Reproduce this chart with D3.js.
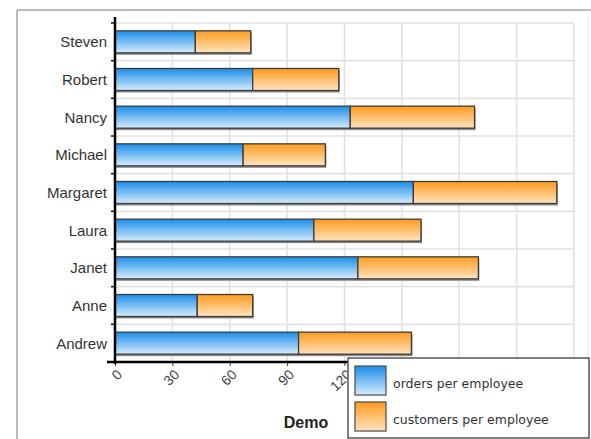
<!DOCTYPE html>
<html>
<head>
<meta charset="utf-8">
<script src="https://cdn.jsdelivr.net/npm/d3@7"></script>
<style>
  html, body { margin: 0; padding: 0; background: #fff; }
  svg { display: block; }
</style>
</head>
<body>
<svg id="chart" width="591" height="439"></svg>
<script>
// Employees shown top to bottom
const categories = ["Steven", "Robert", "Nancy", "Michael", "Margaret", "Laura", "Janet", "Anne", "Andrew"];
// Stacked series values
const ordersPerEmployee    = [42, 72, 123, 67, 156, 104, 127, 43, 96];
const customersPerEmployee = [29, 45, 65, 43, 75, 56, 63, 29, 59];
const seriesNames = ["orders per employee", "customers per employee"];
const xTickValues = [0, 30, 60, 90, 120, 150, 180, 210, 240];
const chartTitle = "Demo";

const svg = d3.select("#chart");

const plot = { left: 115, right: 574, top: 23, bottom: 362 };
const x = d3.scaleLinear().domain([0, 240]).range([plot.left, plot.right]);
const pad = 0.416;
const y = d3.scaleBand().domain(categories).range([plot.top, plot.bottom])
  .paddingInner(pad).paddingOuter(pad / 2);

// Gradients for the bar fills
const defs = svg.append("defs");
function grad(id, top, bottom) {
  const g = defs.append("linearGradient").attr("id", id)
    .attr("x1", 0).attr("y1", 0).attr("x2", 0).attr("y2", 1);
  g.append("stop").attr("offset", "0%").attr("stop-color", top);
  g.append("stop").attr("offset", "100%").attr("stop-color", bottom);
}
grad("gBlue", "#1a8de9", "#d6ecfc");
grad("gOrange", "#ff9b1c", "#ffe3c0");
const fills = ["url(#gBlue)", "url(#gOrange)"];

// Outer frame
svg.append("line").attr("x1", 17).attr("y1", 10).attr("x2", 591).attr("y2", 10)
  .attr("stroke", "#a3a3a3").attr("stroke-width", 1.5);
svg.append("line").attr("x1", 17).attr("y1", 10).attr("x2", 17).attr("y2", 439)
  .attr("stroke", "#a3a3a3").attr("stroke-width", 1.5);
svg.append("line").attr("x1", 588).attr("y1", 10).attr("x2", 588).attr("y2", 439)
  .attr("stroke", "#ececec").attr("stroke-width", 1);

// Grid
const step = y.step();
const boundaries = d3.range(categories.length + 1).map(i => plot.top + i * step);
const grid = svg.append("g").attr("stroke", "#e2e2e2").attr("stroke-width", 1.6);
grid.selectAll("line.h").data(boundaries).join("line").attr("class", "h")
  .attr("x1", plot.left).attr("x2", plot.right)
  .attr("y1", d => d).attr("y2", d => d);
grid.selectAll("line.v").data(xTickValues.slice(1)).join("line").attr("class", "v")
  .attr("x1", d => x(d)).attr("x2", d => x(d))
  .attr("y1", plot.top).attr("y2", plot.bottom);

// Stacked data
const rows = categories.map((c, i) => ({ name: c, values: [ordersPerEmployee[i], customersPerEmployee[i]] }));
const segs = [];
rows.forEach(r => {
  let acc = 0;
  r.values.forEach((v, s) => { segs.push({ name: r.name, s, x0: acc, x1: acc + v }); acc += v; });
});

// Bar shadows
svg.append("g").selectAll("rect").data(rows).join("rect")
  .attr("x", x(0) + 1)
  .attr("y", d => y(d.name) + 2)
  .attr("width", d => x(d3.sum(d.values)) - x(0))
  .attr("height", y.bandwidth())
  .attr("fill", "#8a8a8a");

// Bars
svg.append("g").selectAll("rect").data(segs).join("rect")
  .attr("x", d => x(d.x0))
  .attr("y", d => y(d.name))
  .attr("width", d => x(d.x1) - x(d.x0))
  .attr("height", y.bandwidth())
  .attr("fill", d => fills[d.s])
  .attr("stroke", "#3c3c3c")
  .attr("stroke-width", 1.3);

// Category labels
svg.append("g").selectAll("text").data(categories).join("text")
  .attr("x", 107)
  .attr("y", d => y(d) + y.bandwidth() / 2)
  .attr("dy", "0.36em")
  .attr("text-anchor", "end")
  .attr("font-family", "Liberation Sans, Arial, sans-serif")
  .attr("font-size", 15)
  .attr("fill", "#333")
  .text(d => d);

// Y axis ticks at band boundaries
svg.append("g").selectAll("line").data(boundaries).join("line")
  .attr("x1", plot.left - 4).attr("x2", plot.left)
  .attr("y1", d => d).attr("y2", d => d)
  .attr("stroke", "#111").attr("stroke-width", 1.5);

// X axis
const xAxis = d3.axisBottom(x).tickValues(xTickValues).tickSize(4).tickSizeOuter(0);
const gx = svg.append("g").attr("transform", `translate(0,${plot.bottom})`).call(xAxis);
gx.select(".domain").remove();
gx.selectAll(".tick line").attr("stroke", "#333").attr("stroke-width", 1);
gx.selectAll(".tick text")
  .attr("font-family", "Liberation Sans, Arial, sans-serif")
  .attr("font-size", 14)
  .attr("fill", "#444")
  .attr("text-anchor", "end")
  .attr("y", 0).attr("dy", "0.35em")
  .attr("transform", "translate(4,10) rotate(-45)");

// Axis lines
svg.append("line").attr("x1", 107).attr("x2", plot.right).attr("y1", plot.bottom).attr("y2", plot.bottom)
  .attr("stroke", "#000").attr("stroke-width", 2.5);
svg.append("line").attr("x1", plot.left).attr("x2", plot.left).attr("y1", 17).attr("y2", plot.bottom + 2)
  .attr("stroke", "#000").attr("stroke-width", 2.5);

// Title
svg.append("text").attr("x", 306).attr("y", 428)
  .attr("text-anchor", "middle")
  .attr("font-family", "Liberation Sans, Arial, sans-serif")
  .attr("font-weight", "bold").attr("font-size", 16)
  .attr("fill", "#222")
  .text(chartTitle);

// Legend
const lg = svg.append("g").attr("transform", "translate(348,358)");
lg.append("rect").attr("x", 0).attr("y", 0).attr("width", 241).attr("height", 80)
  .attr("fill", "#fff").attr("stroke", "#555").attr("stroke-width", 1.5);
const items = lg.selectAll("g.item").data(seriesNames).join("g").attr("class", "item")
  .attr("transform", (d, i) => `translate(7,${8 + i * 36})`);
items.append("rect").attr("width", 31).attr("height", 29)
  .attr("fill", (d, i) => fills[i]).attr("stroke", "#555").attr("stroke-width", 1.3);
items.append("text").attr("x", 38).attr("y", 22)
  .attr("font-family", "DejaVu Sans, Verdana, sans-serif")
  .attr("font-size", 12.5)
  .attr("fill", "#333")
  .text(d => d);
</script>
</body>
</html>
